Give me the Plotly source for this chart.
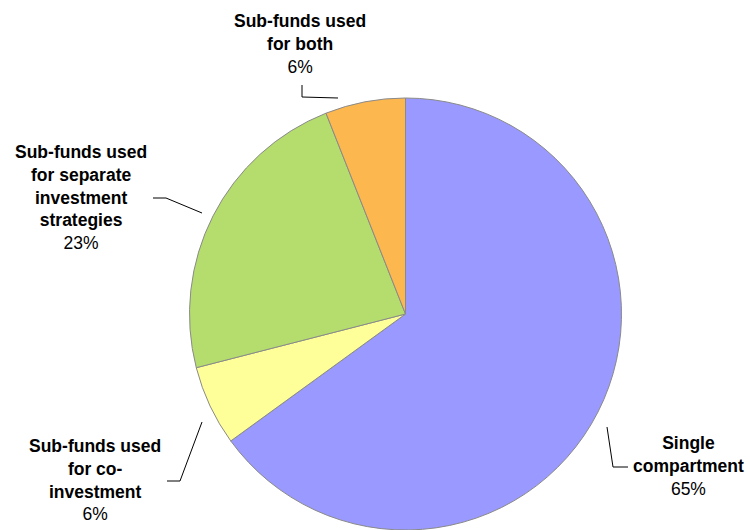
import plotly.graph_objects as go

# Share of funds by compartment structure (percent)
categories = [
    "Single compartment",
    "Sub-funds used for co-investment",
    "Sub-funds used for separate investment strategies",
    "Sub-funds used for both",
]
label_lines = [
    ["Single", "compartment"],
    ["Sub-funds used", "for co-", "investment"],
    ["Sub-funds used", "for separate", "investment", "strategies"],
    ["Sub-funds used", "for both"],
]
values = [65, 6, 23, 6]
colors = ["#9999FF", "#FFFF99", "#B5DD6E", "#FDB74F"]

W, H = 750, 530
CX, CY, R = 405.5, 314, 216


def px(x):
    return x / W


def py(y):
    return 1 - y / H


fig = go.Figure(
    go.Pie(
        labels=categories,
        values=values,
        sort=False,
        direction="clockwise",
        rotation=0,
        marker=dict(colors=colors, line=dict(color="#8A8A8A", width=1)),
        textinfo="none",
        hoverinfo="label+percent",
        showlegend=False,
        domain=dict(x=[px(CX - R), px(CX + R)], y=[0, 2 * R / H]),
    )
)

# label block centres (pixels) and leader-line paths
label_pos = [(688, 466), (95, 480), (81, 197), (300, 44)]
leaders = [
    [(607, 427), (613, 467), (628, 467)],
    [(167, 481), (180, 481), (202, 422)],
    [(153, 198), (166, 198), (202, 213)],
    [(302, 85), (302, 97), (338, 98)],
]

total = sum(values)
annotations = []
for lines, v, (lx, ly) in zip(label_lines, values, label_pos):
    pct = round(100 * v / total)
    text = "<br>".join(f"<b>{t}</b>" for t in lines) + f"<br>{pct}%"
    annotations.append(
        dict(
            x=px(lx), y=py(ly), xref="paper", yref="paper",
            text=text, showarrow=False, xanchor="center", yanchor="middle",
            align="center",
            font=dict(family="Liberation Sans, Arial, sans-serif", size=17.5, color="#000000"),
        )
    )

shapes = []
for path in leaders:
    d = "M " + " L ".join(f"{px(x)},{py(y)}" for x, y in path)
    shapes.append(
        dict(type="path", path=d, xref="paper", yref="paper",
             line=dict(color="#000000", width=1))
    )

fig.update_layout(
    width=W, height=H,
    margin=dict(l=0, r=0, t=0, b=0),
    paper_bgcolor="white", plot_bgcolor="white",
    annotations=annotations, shapes=shapes,
)

fig.write_html("out.html")
